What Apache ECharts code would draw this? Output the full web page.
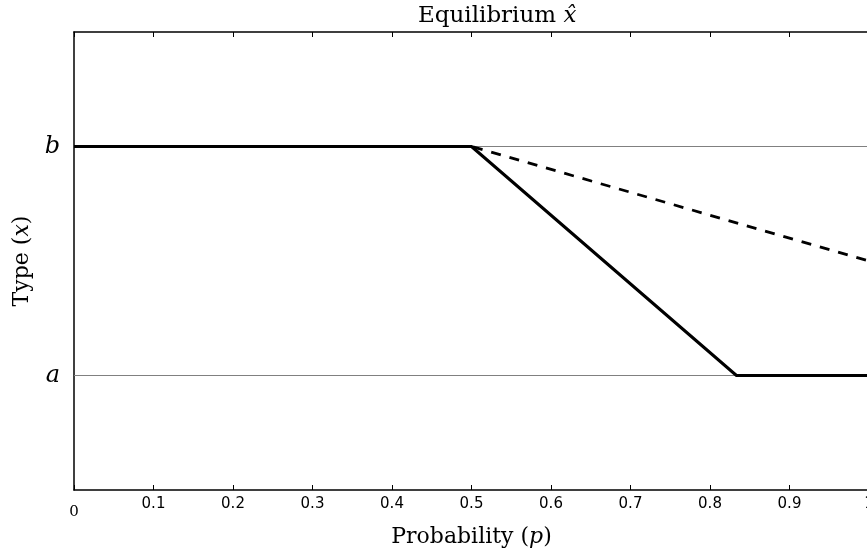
<!DOCTYPE html>
<html>
<head>
<meta charset="utf-8">
<script src="https://cdn.jsdelivr.net/npm/echarts@6/dist/echarts.min.js"></script>
<style>
  html, body { margin: 0; padding: 0; background: #fff; }
  #chart { width: 867px; height: 554px; }
</style>
</head>
<body>
<div id="chart"></div>
<script>
// probability p on the x axis, type x on the y axis (a = 1, b = 2)
const probSolid = [0, 0.5, 0.8333, 1]
const typeSolid = [2, 2, 1, 1]
const probDashed = [0, 0.5, 1]
const typeDashed = [2, 2, 1.5]
const levelProb = [0, 1]
const levelA = [1, 1]
const levelB = [2, 2]
const yLabels = { 1: 'a', 2: 'b' }

const pairs = (xs, ys) => xs.map((x, i) => [x, ys[i]])

const serif = 'DejaVu Serif'
const sans = 'DejaVu Sans'

const chart = echarts.init(document.getElementById('chart'))

const levelLine = (name, ys) => ({
  name,
  type: 'line',
  data: pairs(levelProb, ys),
  symbol: 'none',
  z: 1,
  lineStyle: { color: '#808080', width: 1 }
})

chart.setOption({
  animation: false,
  backgroundColor: '#fff',
  title: {
    text: 'Equilibrium {i|x\u0302}',
    left: 413,
    top: 0,
    textStyle: {
      fontFamily: serif,
      fontWeight: 'normal',
      fontSize: 23,
      color: '#000',
      rich: {
        i: { fontFamily: serif, fontStyle: 'italic', fontSize: 23, color: '#000' }
      }
    }
  },
  grid: { left: 74, right: -2, top: 32, bottom: 64, outerBoundsMode: 'none', containLabel: false },
  xAxis: [{
    type: 'value',
    min: 0,
    max: 1,
    interval: 0.1,
    name: 'Probability ({i|p})',
    nameLocation: 'middle',
    nameGap: 36,
    nameTextStyle: {
      fontFamily: serif,
      fontSize: 22,
      color: '#000',
      rich: { i: { fontFamily: serif, fontStyle: 'italic', fontSize: 22, color: '#000' } }
    },
    axisLine: { lineStyle: { color: '#000', width: 1.5 } },
    axisTick: { inside: true, length: 5, lineStyle: { color: '#000', width: 1 } },
    splitLine: { show: false },
    axisLabel: {
      margin: 7,
      fontFamily: sans,
      fontSize: 15,
      color: '#000',
      formatter: v => v === 0 ? '{z|0}' : String(+v.toFixed(1)),
      rich: { z: { fontFamily: serif, fontSize: 15, color: '#000', padding: [8, 0, 0, 0] } }
    }
  }, {
    type: 'value',
    position: 'top',
    min: 0,
    max: 1,
    interval: 0.1,
    axisLine: { lineStyle: { color: '#000', width: 1.5 } },
    axisTick: { inside: true, length: 5, lineStyle: { color: '#000', width: 1 } },
    axisLabel: { show: false },
    splitLine: { show: false }
  }],
  yAxis: {
    type: 'value',
    min: 0.5,
    max: 2.5,
    interval: 0.5,
    name: 'Type ({i|x})',
    nameLocation: 'middle',
    nameRotate: 90,
    nameGap: 41,
    nameTextStyle: {
      fontFamily: serif,
      fontSize: 22,
      color: '#000',
      rich: { i: { fontFamily: serif, fontStyle: 'italic', fontSize: 22, color: '#000' } }
    },
    axisLine: { show: true, lineStyle: { color: '#000', width: 1.5 } },
    axisTick: { show: false },
    splitLine: { show: false },
    axisLabel: {
      margin: 14,
      fontFamily: serif,
      fontStyle: 'italic',
      fontSize: 24,
      color: '#000',
      formatter: v => yLabels[v] || ''
    }
  },
  series: [
    levelLine('a', levelA),
    levelLine('b', levelB),
    {
      name: 'dashed',
      type: 'line',
      data: pairs(probDashed, typeDashed),
      symbol: 'none',
      z: 2,
      lineStyle: { color: '#000', width: 2.8, type: [10, 9] }
    },
    {
      name: 'solid',
      type: 'line',
      data: pairs(probSolid, typeSolid),
      symbol: 'none',
      z: 3,
      lineStyle: { color: '#000', width: 3 }
    }
  ]
})
</script>
</body>
</html>
